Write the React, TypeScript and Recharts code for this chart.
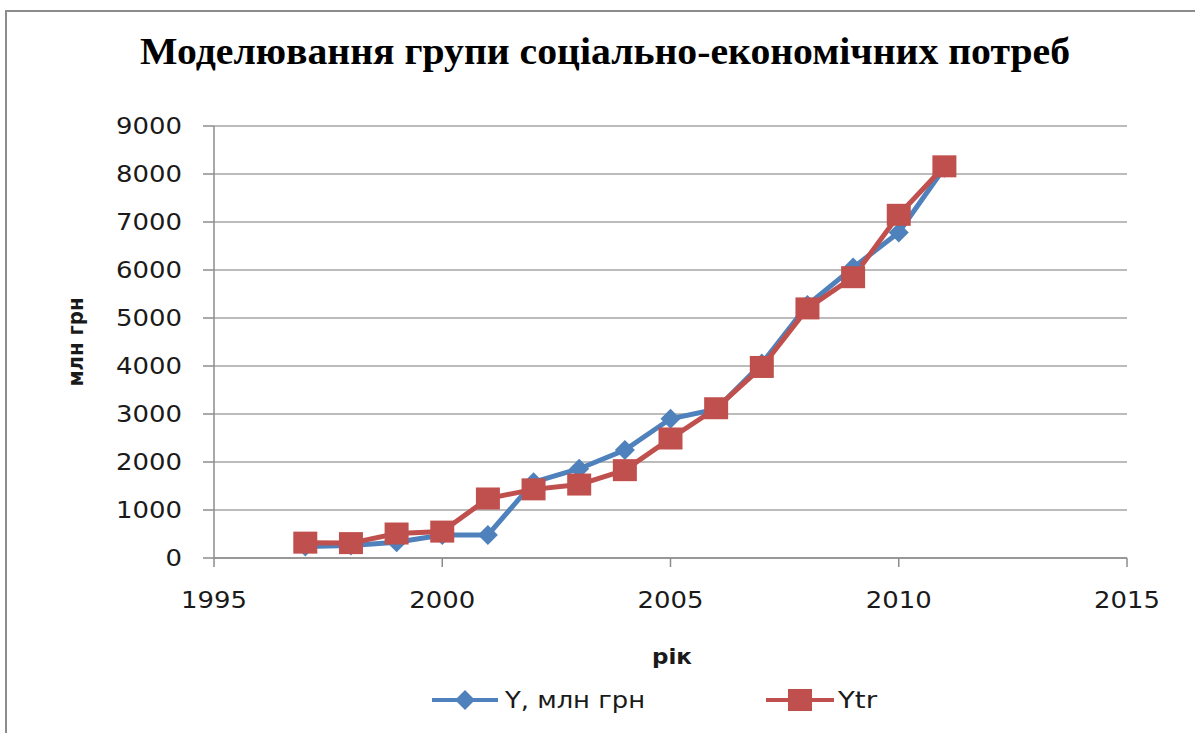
import { LineChart, Line, XAxis, YAxis, CartesianGrid } from "recharts";

const years = [1997, 1998, 1999, 2000, 2001, 2002, 2003, 2004, 2005, 2006, 2007, 2008, 2009, 2010, 2011];
const yActual = [240, 260, 330, 480, 480, 1580, 1860, 2250, 2900, 3100, 4050, 5270, 6050, 6780, 8130];
const yTrend = [320, 310, 510, 550, 1240, 1430, 1530, 1830, 2490, 3120, 3980, 5200, 5850, 7150, 8160];
const xTicks = [1995, 2000, 2005, 2010, 2015];
const yTicks = [0, 1000, 2000, 3000, 4000, 5000, 6000, 7000, 8000, 9000];
const seriesNames = ["Y, млн грн", "Ytr"];
const title = "Моделювання групи соціально-економічних потреб";

const BLUE = "#4F81BD";
const RED = "#C0504D";
const GRID = "#a6a6a6";
const FONT = "'DejaVu Sans', sans-serif";

const data = years.map((year, i) => ({ year, y: yActual[i], ytr: yTrend[i] }));

const diamondPath = (cx: number, cy: number) =>
  `M${cx},${cy - 10} L${cx + 10},${cy} L${cx},${cy + 10} L${cx - 10},${cy} Z`;

function DiamondDot(props: any) {
  const { cx, cy } = props;
  if (cx == null || cy == null) return null;
  return <path d={diamondPath(cx, cy)} fill={BLUE} />;
}

function SquareDot(props: any) {
  const { cx, cy } = props;
  if (cx == null || cy == null) return null;
  return <rect x={cx - 12} y={cy - 11} width={24} height={22} fill={RED} />;
}

// digits in the reference are wide, so stretch them a bit
function YTick(props: any) {
  const { x, y, payload } = props;
  const s = String(payload.value);
  return (
    <text x={x} y={y} dy="0.355em" textAnchor="end" fontFamily={FONT} fontSize={23} fill="#1a1a1a"
      textLength={s.length * 16.5} lengthAdjust="spacingAndGlyphs">
      {s}
    </text>
  );
}

function XTick(props: any) {
  const { x, y, payload } = props;
  const s = String(payload.value);
  return (
    <text x={x} y={y} dy="0.71em" textAnchor="middle" fontFamily={FONT} fontSize={23} fill="#1a1a1a"
      textLength={s.length * 16.5} lengthAdjust="spacingAndGlyphs">
      {s}
    </text>
  );
}

function ChartLegend() {
  return (
    <svg width={1195} height={40} style={{ position: "absolute", left: 0, top: 680 }}>
      <line x1={432} y1={20} x2={498} y2={20} stroke={BLUE} strokeWidth={4} />
      <path d={diamondPath(465, 20)} fill={BLUE} />
      <text x={505} y={20} dy="0.355em" fontFamily={FONT} fontSize={23} fill="#1a1a1a"
        textLength={140} lengthAdjust="spacingAndGlyphs">{seriesNames[0]}</text>
      <line x1={766} y1={20} x2={834} y2={20} stroke={RED} strokeWidth={4} />
      <rect x={788} y={9} width={24} height={22} fill={RED} />
      <text x={838} y={20} dy="0.355em" fontFamily={FONT} fontSize={23} fill="#1a1a1a"
        textLength={39} lengthAdjust="spacingAndGlyphs">{seriesNames[1]}</text>
    </svg>
  );
}

export default function App() {
  return (
    <div style={{ position: "fixed", left: 0, top: 0, width: 1195, height: 733, overflow: "hidden", background: "#fff" }}>
      <div style={{ position: "absolute", left: 5, top: 10, width: 1210, height: 760, border: "2px solid #8c8c8c" }} />
      <svg width={1195} height={100} style={{ position: "absolute", left: 0, top: 0 }}>
        <text x={605} y={64} textAnchor="middle" fontFamily="'Liberation Serif', serif" fontWeight="bold"
          fontSize={38} fill="#000" textLength={930} lengthAdjust="spacingAndGlyphs">
          {title}
        </text>
      </svg>
      <div style={{ position: "absolute", left: 0, top: 0 }}>
        <LineChart width={1195} height={733} data={data} margin={{ top: 126, right: 68, bottom: 55, left: 154 }}>
          <CartesianGrid vertical={false} stroke={GRID} strokeWidth={1.5} />
          <XAxis
            dataKey="year"
            type="number"
            domain={[1995, 2015]}
            ticks={xTicks}
            tickSize={9}
            tickMargin={25}
            height={120}
            stroke="#8c8c8c"
            strokeWidth={1.5}
            tick={<XTick />}
            label={{
              content: () => (
                <text x={672} y={664} textAnchor="middle" fontFamily={FONT} fontWeight="bold" fontSize={22}
                  fill="#1a1a1a" textLength={40} lengthAdjust="spacingAndGlyphs">
                  рік
                </text>
              ),
            }}
          />
          <YAxis
            type="number"
            domain={[0, 9000]}
            ticks={yTicks}
            width={60}
            tickSize={11}
            tickMargin={21}
            stroke="#8c8c8c"
            strokeWidth={1.5}
            tick={<YTick />}
            label={{
              content: () => (
                <text x={83} y={342} textAnchor="middle" transform="rotate(-90 83 342)" fontFamily={FONT}
                  fontWeight="bold" fontSize={22} fill="#1a1a1a" textLength={89} lengthAdjust="spacingAndGlyphs">
                  млн грн
                </text>
              ),
            }}
          />
          <Line
            dataKey="y"
            name={seriesNames[0]}
            stroke={BLUE}
            strokeWidth={5}
            dot={<DiamondDot />}
            activeDot={false}
            isAnimationActive={false}
          />
          <Line
            dataKey="ytr"
            name={seriesNames[1]}
            stroke={RED}
            strokeWidth={5}
            dot={<SquareDot />}
            activeDot={false}
            isAnimationActive={false}
          />
        </LineChart>
      </div>
      <ChartLegend />
    </div>
  );
}
